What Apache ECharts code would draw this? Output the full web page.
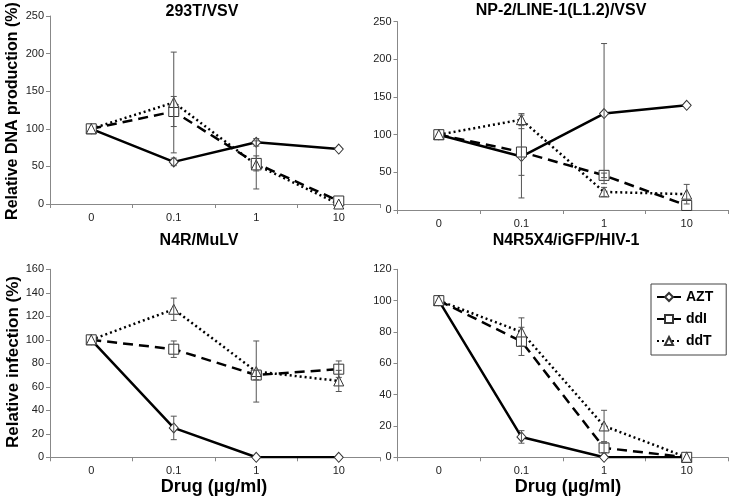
<!DOCTYPE html>
<html><head><meta charset="utf-8">
<script src="https://cdn.jsdelivr.net/npm/echarts@6/dist/echarts.min.js"></script>
<style>html,body{margin:0;padding:0;background:#fff}#c{width:732px;height:499px}</style>
</head><body><div id="c"></div>
<script>
var categories = ['0', '0.1', '1', '10'];
var seriesNames = ['AZT', 'ddI', 'ddT'];
var panelTitles = ['293T/VSV', 'NP-2/LINE-1(L1.2)/VSV', 'N4R/MuLV', 'N4R5X4/iGFP/HIV-1'];
var yMax = [250, 250, 160, 120];
var yStep = [50, 50, 20, 20];

// Panel 1: 293T/VSV
var p1AZT = [100, 56, 82, 73];     var p1AZTErr = [0, 5, 5, 0];
var p1ddI = [100, 123, 54, 4];     var p1ddIErr = [0, 20, 10, 0];
var p1ddT = [100, 135, 52, 0];     var p1ddTErr = [0, 67, 32, 0];
// Panel 2: NP-2/LINE-1(L1.2)/VSV
var p2AZT = [100, 71, 128, 139];   var p2AZTErr = [0, 55, 93, 0];
var p2ddI = [100, 77, 46, 6];      var p2ddIErr = [0, 31, 3, 0];
var p2ddT = [100, 120, 24, 21];    var p2ddTErr = [0, 8, 6, 13];
// Panel 3: N4R/MuLV
var p3AZT = [100, 25, 0, 0];       var p3AZTErr = [0, 10, 0, 0];
var p3ddI = [100, 92, 70, 75];     var p3ddIErr = [0, 7, 4, 7];
var p3ddT = [100, 126, 73, 65];    var p3ddTErr = [0, 9.5, 26, 9];
// Panel 4: N4R5X4/iGFP/HIV-1
var p4AZT = [100, 13, 0, 0];       var p4AZTErr = [0, 4, 0, 0];
var p4ddI = [100, 74, 6, 0];       var p4ddIErr = [0, 9, 3, 0];
var p4ddT = [100, 80, 20, 0];      var p4ddTErr = [0, 9, 10, 0];

var panels = [
  [[p1AZT, p1AZTErr], [p1ddI, p1ddIErr], [p1ddT, p1ddTErr]],
  [[p2AZT, p2AZTErr], [p2ddI, p2ddIErr], [p2ddT, p2ddTErr]],
  [[p3AZT, p3AZTErr], [p3ddI, p3ddIErr], [p3ddT, p3ddTErr]],
  [[p4AZT, p4AZTErr], [p4ddI, p4ddIErr], [p4ddT, p4ddTErr]]
];

var FONT = 'Liberation Sans, Arial, sans-serif';
var grids = [
  {left: 50, top: 16, width: 330, height: 188},
  {left: 397.5, top: 21.7, width: 330.5, height: 188.3},
  {left: 50, top: 269.3, width: 330, height: 188},
  {left: 397.5, top: 269.3, width: 330.5, height: 188}
];
var styles = [
  {symbol: 'diamond', size: [9, 10], type: 'solid'},
  {symbol: 'rect', size: 10, type: [10, 6]},
  {symbol: 'triangle', size: 10, type: [2, 3]}
];

var xAxes = [], yAxes = [], series = [];
grids.forEach(function (g, i) {
  xAxes.push({
    type: 'category', gridIndex: i, data: categories, boundaryGap: true,
    axisLine: {lineStyle: {color: '#888', width: 1}},
    axisTick: {show: true, inside: false, length: 4, lineStyle: {color: '#888'}},
    axisLabel: {color: '#222', fontSize: 11, fontFamily: FONT, margin: 8},
    splitLine: {show: false}
  });
  yAxes.push({
    type: 'value', gridIndex: i, min: 0, max: yMax[i], interval: yStep[i],
    axisLine: {show: true, lineStyle: {color: '#888', width: 1}},
    axisTick: {show: true, length: 4, lineStyle: {color: '#888'}},
    axisLabel: {color: '#222', fontSize: 11, fontFamily: FONT, margin: 6},
    splitLine: {show: false}
  });
  panels[i].forEach(function (s, k) {
    var st = styles[k];
    series.push({
      name: seriesNames[k], type: 'line', xAxisIndex: i, yAxisIndex: i,
      data: s[0], symbol: st.symbol, symbolSize: st.size, showSymbol: true,
      lineStyle: {color: '#000', width: 2.5, type: st.type},
      itemStyle: {color: '#fff', borderColor: '#333', borderWidth: 1},
      z: 3, animation: false
    });
  });
  var errData = [];
  panels[i].forEach(function (s) {
    s[0].forEach(function (v, j) { if (s[1][j] > 0) errData.push([j, v, s[1][j]]); });
  });
  series.push({
    type: 'custom', xAxisIndex: i, yAxisIndex: i, data: errData, z: 4, silent: true,
    animation: false,
    renderItem: function (params, api) {
      var x = api.value(0), v = api.value(1), e = api.value(2);
      var top = api.coord([x, v + e]);
      var bot = api.coord([x, v - e]);
      var w = 3;
      var st = {stroke: '#555', lineWidth: 1};
      return {type: 'group', children: [
        {type: 'line', shape: {x1: top[0], y1: top[1], x2: bot[0], y2: bot[1]}, style: st},
        {type: 'line', shape: {x1: top[0] - w, y1: top[1], x2: top[0] + w, y2: top[1]}, style: st},
        {type: 'line', shape: {x1: bot[0] - w, y1: bot[1], x2: bot[0] + w, y2: bot[1]}, style: st}
      ]};
    }
  });
});

function txt(t, x, y, size, rot) {
  return {type: 'text', x: x, y: y, rotation: rot || 0, style: {
    text: t, fill: '#000', font: 'bold ' + size + 'px ' + FONT,
    textAlign: 'center', textVerticalAlign: 'middle'}};
}
var graphics = [
  txt(panelTitles[0], 202, 12, 16),
  txt(panelTitles[1], 561, 10.5, 16),
  txt(panelTitles[2], 199, 241, 16),
  txt(panelTitles[3], 566, 241, 16),
  txt('Relative DNA production (%)', 13, 111, 16, Math.PI / 2),
  txt('Relative infection (%)', 13, 362, 17, Math.PI / 2),
  txt('Drug (\u00b5g/ml)', 214, 487, 18),
  txt('Drug (\u00b5g/ml)', 568, 487, 18)
];

var chart = echarts.init(document.getElementById('c'), null, {renderer: 'canvas'});
chart.setOption({
  animation: false,
  grid: grids,
  xAxis: xAxes,
  yAxis: yAxes,
  series: series,
  graphic: graphics,
  legend: {
    data: seriesNames, orient: 'vertical', left: 651, top: 284,
    itemWidth: 24, itemHeight: 10, itemGap: 8,
    padding: [6, 13, 7, 5], borderColor: '#444', borderWidth: 1, backgroundColor: '#fff',
    textStyle: {fontSize: 14, fontWeight: 'bold', fontFamily: FONT, color: '#000'},
    selectedMode: false
  }
});
</script></body></html>
